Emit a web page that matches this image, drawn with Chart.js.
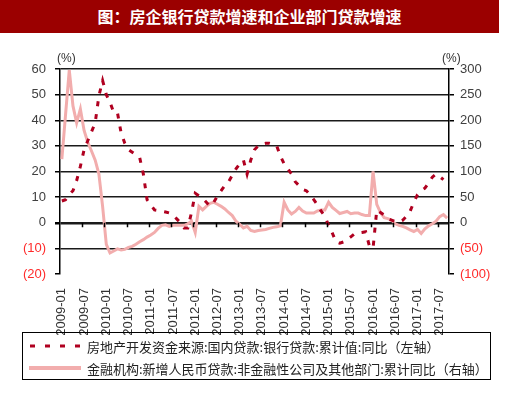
<!DOCTYPE html>
<html>
<head>
<meta charset="utf-8">
<script src="https://cdn.jsdelivr.net/npm/chart.js@4"></script>
<style>
  html,body{margin:0;padding:0;background:#fff;}
  #wrap{position:relative;width:509px;height:397px;overflow:hidden;}
  #c{position:absolute;left:0;top:0;}
  #title{position:absolute;left:0;top:0;width:499px;height:33px;background:#9b0000;color:#fff;
    font:bold 16px "Noto Sans CJK SC",sans-serif;text-align:center;line-height:33px;}
  .pct{position:absolute;top:51px;font:12px "Liberation Sans",Arial,sans-serif;color:#333;}
  #legend{position:absolute;left:22px;top:332px;width:467px;height:46px;border:1.5px solid #000;
    font:13px "Noto Sans CJK SC",sans-serif;color:#222;}
  .row{position:absolute;left:6px;height:18px;display:flex;align-items:center;white-space:nowrap;}
  .row svg{margin-right:6px;}
</style>
</head>
<body>
<div id="wrap">
  <canvas id="c" width="509" height="397"></canvas>
  <div id="title">图：房企银行贷款增速和企业部门贷款增速</div>
  <div class="pct" style="left:57px;">(%)</div>
  <div class="pct" style="left:442px;">(%)</div>
  <div id="legend">
    <div class="row" style="top:4px;">
      <svg width="52" height="8"><line x1="1" y1="4" x2="52" y2="4" stroke="#b00020" stroke-width="3" stroke-dasharray="5,10"/></svg>
      <span id="lg1"></span>
    </div>
    <div class="row" style="top:26px;">
      <svg width="52" height="8"><line x1="0" y1="4" x2="52" y2="4" stroke="#f2adad" stroke-width="4"/></svg>
      <span id="lg2"></span>
    </div>
  </div>
</div>
<script>
// ---- data ----
const startYear = 2009;
const monthCount = 105; // 2009-01 .. 2017-09
const categories = [];
for (let k = 0; k < monthCount; k++) {
  const y = startYear + Math.floor(k / 12), m = (k % 12) + 1;
  categories.push(y + '-' + (m < 10 ? '0' + m : m));
}
const tickLabels = ['2009-01','2009-07','2010-01','2010-07','2011-01','2011-07','2012-01','2012-07',
  '2013-01','2013-07','2014-01','2014-07','2015-01','2015-07','2016-01','2016-07','2017-01','2017-07'];

const seriesNames = [
  '房地产开发资金来源:国内贷款:银行贷款:累计值:同比（左轴）',
  '金融机构:新增人民币贷款:非金融性公司及其他部门:累计同比（右轴）'
];

// left axis (%), real-estate bank loans cumulative YoY
const realEstateLoans = [
  8.5, 9, 11, 12.5, 16.5, 22, 28.5, 32, 35.5, 39, 49.5, 55.5,
  50, 47, 43, 43, 35, 31, 28.5, 27.5, 26.5, 25.5, 19, 9,
  7, 5, 4.8, 4.5, 4.2, 3.8, 3, 1.5, 0, -2, -2, 4,
  11.5, 10.5, 9.5, 8, 6.5, 8, 10.5, 12.5, 14.5, 16, 18.5, 21,
  23, 24.5, 19, 24.5, 28.5, 30, 30.7, 31, 31, 30.5, 30, 26,
  23, 21, 19, 16, 14.5, 13, 12.5, 11, 9, 7, 4.5, 2.5,
  -1, -4, -7.5, -8, -7.5, -6.5, -5.5, -4.3, -4, -3.8, -3.5, -9,
  -10, 5, 4, 3, 1.5, 1, 0.5, 0.3, 1, 2.5, 4.5, 8,
  11, 12.5, 13.5, 15.5, 17.8, 19, 18, 16.8, null
];

// right axis (%), new RMB loans to non-financial corporates cumulative YoY
const corporateLoans = [
  124, 211, 298, 228, 195, 222, 180, 157, 140, 122, 95, 32,
  -42, -59, -55, -51, -53, -52, -48, -46, -42, -37, -33, -28,
  -24, -19, -11, -5, -4, -7, -5, -5, -5, -5, -2, 3,
  -19, 32, 25, 32, 38, 40, 36, 32, 27, 20, 14, 3,
  -3, -10, -7, -15, -17, -15, -14, -13, -11, -9, -8, -6,
  40, 25, 17, 22, 30, 23, 19, 19, 19, 23, 25, 25,
  40, 30, 24, 18, 20, 22, 17.5, 19, 19, 16, 14, 14,
  100, 36, 20, 10, 8, 5, -2, -5, -7, -10, -14, -17,
  -13, -21, -12, -6, -2, 3, 12, 16, 9
];

const leftAxis = {min: -20, max: 60, step: 10};
const rightAxis = {min: -100, max: 300, step: 50};

document.getElementById('lg1').textContent = seriesNames[0];
document.getElementById('lg2').textContent = seriesNames[1];

function fmt(v){ return v < 0 ? '(' + Math.abs(v) + ')' : String(v); }
const labColor = ctx => ctx.tick.value < 0 ? '#ff2a2a' : '#404040';

const zeroTicks = {
  id: 'zeroTicks',
  afterDatasetsDraw(chart) {
    const x = chart.scales.x, y = chart.scales.y;
    const y0 = y.getPixelForValue(0);
    const c = chart.ctx;
    c.save();
    c.strokeStyle = '#000';
    c.lineWidth = 1.5;
    for (let i = 6; i < categories.length; i += 6) {
      const px = Math.round((x.getPixelForValue(i - 1) + x.getPixelForValue(i)) / 2) + 0.5;
      c.beginPath();
      c.moveTo(px, y0);
      c.lineTo(px, y0 + 4.5);
      c.stroke();
    }
    c.restore();
  }
};

new Chart(document.getElementById('c'), {
  type: 'line',
  data: {
    labels: categories,
    datasets: [
      {
        label: seriesNames[0], data: realEstateLoans, yAxisID: 'y',
        borderColor: '#b00020', borderWidth: 3, borderDash: [5, 8], borderCapStyle: 'butt',
        pointRadius: 0, tension: 0, spanGaps: true, fill: false
      },
      {
        label: seriesNames[1], data: corporateLoans, yAxisID: 'y1',
        borderColor: '#f2adad', borderWidth: 3, pointRadius: 0, tension: 0, fill: false
      }
    ]
  },
  options: {
    responsive: false, animation: false, maintainAspectRatio: false,
    layout: {padding: {top: 69, left: 0, right: 0, bottom: 0}},
    plugins: {legend: {display: false}, tooltip: {enabled: false}},
    scales: {
      x: {
        type: 'category', offset: true,
        grid: {display: false}, border: {display: false},
        ticks: {
          autoSkip: false, maxRotation: 90, minRotation: 90, padding: 6,
          color: '#333', font: {family: '"Liberation Sans", Arial, sans-serif', size: 13},
          callback: function(v, i) { const l = categories[i]; return tickLabels.includes(l) ? l : ''; }
        },
        afterFit(s) { s.height = 123; }
      },
      y: {
        position: 'left', min: leftAxis.min, max: leftAxis.max,
        grid: {
          color: ctx => ctx.tick.value === leftAxis.min ? 'rgba(0,0,0,0)' : '#1a1a1a',
          lineWidth: ctx => ctx.tick.value === 0 ? 2.5 : 1.5,
          tickColor: '#000', tickLength: 5, drawTicks: true
        },
        border: {display: true, color: '#000', width: 1.5},
        ticks: {
          stepSize: leftAxis.step, padding: 9, color: labColor,
          font: {family: '"Liberation Sans", Arial, sans-serif', size: 13},
          callback: v => fmt(v)
        },
        afterFit(s) { s.width = 60; }
      },
      y1: {
        position: 'right', min: rightAxis.min, max: rightAxis.max,
        grid: {drawOnChartArea: false, tickColor: '#000', tickLength: 5, lineWidth: 1.5},
        border: {display: true, color: '#000', width: 1.5},
        ticks: {
          stepSize: rightAxis.step, padding: 6, color: labColor,
          font: {family: '"Liberation Sans", Arial, sans-serif', size: 13},
          callback: v => fmt(v)
        },
        afterFit(s) { s.width = 60; }
      }
    }
  },
  plugins: [zeroTicks]
});
</script>
</body>
</html>
